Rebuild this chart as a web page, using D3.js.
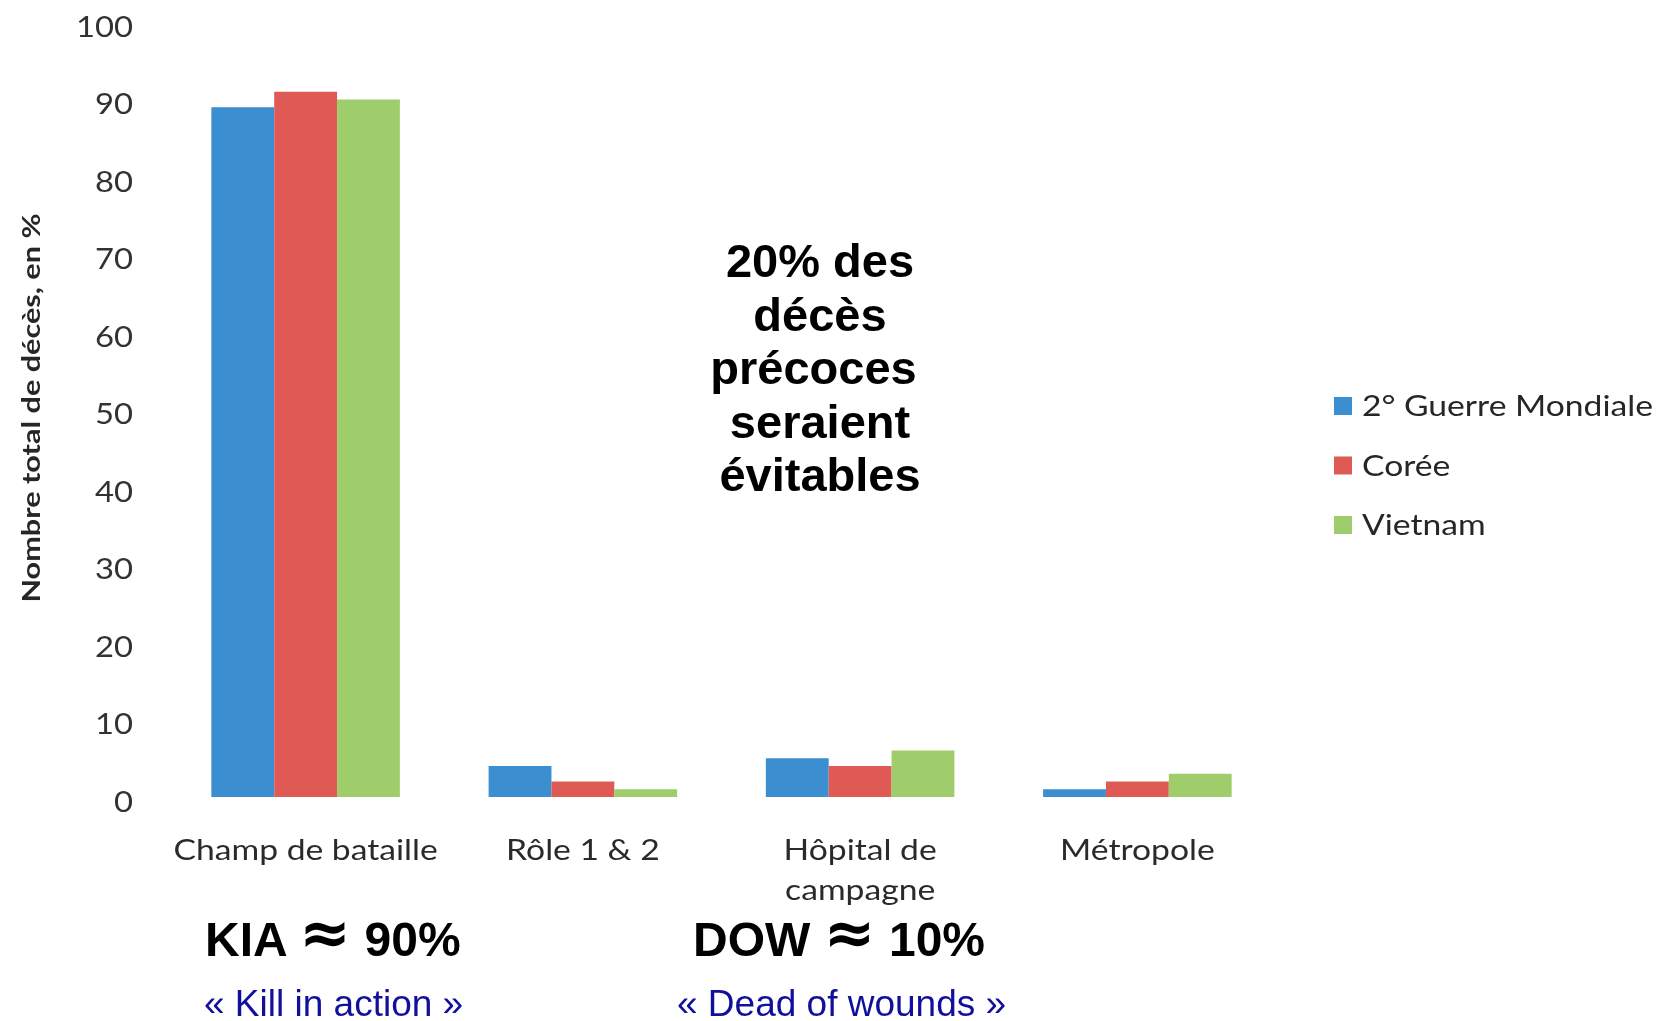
<!DOCTYPE html>
<html lang="fr">
<head>
<meta charset="utf-8">
<script src="https://cdn.jsdelivr.net/npm/d3@7"></script>
<style>
  html, body { margin: 0; padding: 0; background: #ffffff; }
  svg { display: block; }
  .note { font-family: "Liberation Sans", Arial, sans-serif; }
  .chart text { font-family: Lato, "Open Sans", sans-serif; }
</style>
</head>
<body>
<svg id="chart" width="1671" height="1021"></svg>
<script>
// Lieux de décès (catégories de l'axe X)
const categories = ["Champ de bataille", "Rôle 1 & 2", "Hôpital de\ncampagne", "Métropole"];
// Conflits (séries)
const seriesNames = ["2° Guerre Mondiale", "Corée", "Vietnam"];
const seriesColors = ["#3b8fd0", "#e05a55", "#a0cd6c"];
// Part des décès, en %, par lieu et par conflit
const ww2Values = [89, 4, 5, 1];
const koreaValues = [91, 2, 4, 2];
const vietnamValues = [90, 1, 6, 3];
const seriesValues = [ww2Values, koreaValues, vietnamValues];
// Graduations de l'axe Y
const yTicks = [0, 10, 20, 30, 40, 50, 60, 70, 80, 90, 100];

const svg = d3.select("#chart");

// Élargit un texte horizontalement d'un facteur donné
function widen(sel, k) {
  sel.each(function () {
    const w = this.getComputedTextLength();
    d3.select(this).attr("textLength", w * k).attr("lengthAdjust", "spacingAndGlyphs");
  });
}

// Léger flou du graphique d'origine
const defs = svg.append("defs");
defs.append("filter").attr("id", "soft")
  .attr("x", "-5%").attr("y", "-5%").attr("width", "110%").attr("height", "110%")
  .append("feGaussianBlur").attr("stdDeviation", 0.7);

const chart = svg.append("g").attr("class", "chart").attr("filter", "url(#soft)");

const x = d3.scaleBand()
  .domain(categories)
  .range([167, 1276])
  .paddingInner(0.32)
  .paddingOuter(0.16);

const xInner = d3.scaleBand()
  .domain(d3.range(seriesNames.length))
  .range([0, x.bandwidth()]);

const y = d3.scaleLinear().domain([0, 100]).range([797, 22]);

// Axe Y : étiquettes seulement
const yAxis = chart.append("g")
  .attr("transform", "translate(133,0)")
  .call(d3.axisLeft(y).tickValues(yTicks).tickSize(0).tickPadding(0));
yAxis.select(".domain").remove();
yAxis.selectAll("text")
  .attr("dy", "0.38em")
  .attr("y", 3)
  .style("font-family", "Lato, sans-serif")
  .style("font-size", "29px")
  .attr("fill", "#333333")
  .call(widen, 1.13);

// Titre de l'axe Y
chart.append("text")
  .attr("transform", "translate(40,408) rotate(-90)")
  .attr("text-anchor", "middle")
  .attr("font-size", 25)
  .attr("font-weight", 700)
  .attr("fill", "#262626")
  .attr("textLength", 389)
  .attr("lengthAdjust", "spacingAndGlyphs")
  .text("Nombre total de décès, en %");

// Barres groupées
const groups = chart.append("g").selectAll("g")
  .data(categories)
  .join("g")
  .attr("transform", d => `translate(${x(d)},0)`);

groups.selectAll("rect")
  .data((d, i) => seriesValues.map((vals, s) => ({ s, v: vals[i] })))
  .join("rect")
  .attr("x", d => xInner(d.s))
  .attr("width", xInner.bandwidth())
  .attr("y", d => y(d.v))
  .attr("height", d => y(0) - y(d.v))
  .attr("fill", d => seriesColors[d.s]);

// Étiquettes des catégories
const xAxis = chart.append("g")
  .attr("transform", `translate(0,${y(0)})`)
  .call(d3.axisBottom(x).tickSize(0).tickFormat(""));
xAxis.select(".domain").remove();
xAxis.selectAll(".tick").each(function (d) {
  const t = d3.select(this).append("text")
    .attr("text-anchor", "middle")
    .attr("fill", "#2b2b2b")
    .style("font-family", "Lato, sans-serif")
    .style("font-size", "29px");
  d.split("\n").forEach((line, k) => {
    t.append("tspan").attr("x", 0).attr("y", 63 + k * 40).text(line);
  });
});
xAxis.selectAll("tspan").call(widen, 1.16);

// Légende
const legend = chart.append("g").attr("transform", "translate(1334,406)");
const items = legend.selectAll("g")
  .data(seriesNames)
  .join("g")
  .attr("transform", (d, i) => `translate(0,${i * 59.5})`);
items.append("rect")
  .attr("x", 0).attr("y", -9).attr("width", 18).attr("height", 18)
  .attr("fill", (d, i) => seriesColors[i]);
items.append("text")
  .attr("x", 28).attr("dy", "0.36em")
  .attr("fill", "#262626")
  .attr("font-size", 29)
  .text(d => d)
  .call(widen, 1.16);

// Annotation centrale
const noteLines = ["20% des", "décès", "précoces\u00a0", "seraient", "évitables"];
svg.append("text")
  .attr("class", "note")
  .attr("text-anchor", "middle")
  .attr("font-size", 47)
  .attr("font-weight", 700)
  .attr("fill", "#000")
  .selectAll("tspan")
  .data(noteLines)
  .join("tspan")
  .attr("x", 820)
  .attr("y", (d, i) => 277 + i * 53.6)
  .text(d => d);

// Totaux KIA / DOW
const summaries = [
  { head: "KIA", value: "90%", sub: "« Kill in action »", x: 205, subX: 204 },
  { head: "DOW", value: "10%", sub: "« Dead of wounds »", x: 693, subX: 677 }
];
const sum = svg.append("g").attr("class", "note");
const big = sum.selectAll("text.big")
  .data(summaries)
  .join("text")
  .attr("class", "big")
  .attr("x", d => d.x)
  .attr("y", 956)
  .attr("font-size", 48)
  .attr("font-weight", 700)
  .attr("fill", "#000")
  .style("white-space", "pre");
big.append("tspan").text(d => d.head + " ");
big.append("tspan")
  .attr("dy", -2)
  .style("font-family", "'DejaVu Sans', sans-serif")
  .attr("font-size", 62)
  .text("≈");
big.append("tspan")
  .attr("dy", 2)
  .text(d => " " + d.value);
sum.selectAll("text.sub")
  .data(summaries)
  .join("text")
  .attr("class", "sub")
  .attr("x", d => d.subX)
  .attr("y", 1016)
  .attr("font-size", 37)
  .attr("fill", "#10109c")
  .text(d => d.sub);
</script>
</body>
</html>
